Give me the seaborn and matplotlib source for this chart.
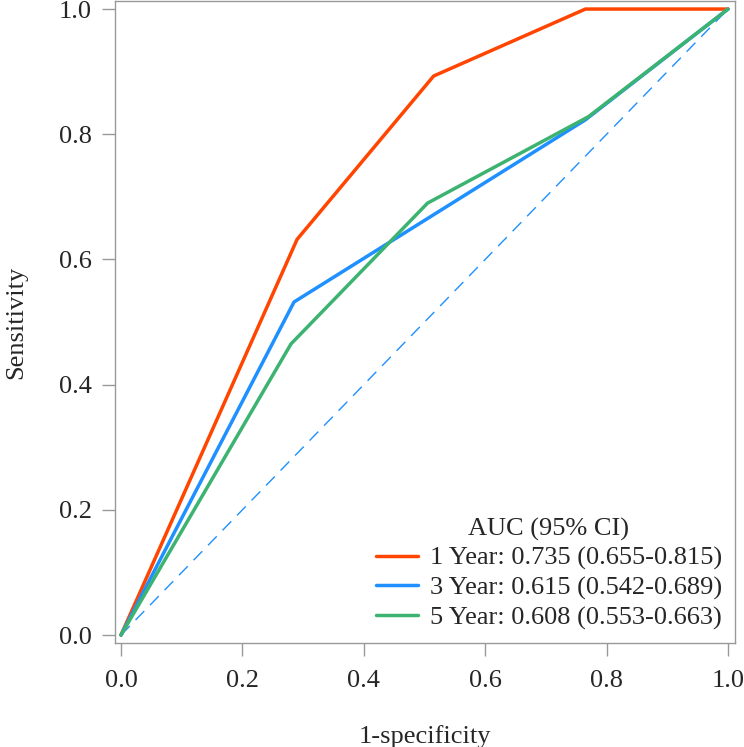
import pandas as pd
import seaborn as sns
import matplotlib

matplotlib.use("Agg")
import matplotlib.pyplot as plt

# ROC points (x = 1-specificity, y = sensitivity)
fpr_1y = [0.0, 0.29, 0.515, 0.765, 1.0]
tpr_1y = [0.0, 0.632, 0.893, 1.0, 1.0]
fpr_3y = [0.0, 0.285, 0.765, 1.0]
tpr_3y = [0.0, 0.532, 0.823, 1.0]
fpr_5y = [0.0, 0.28, 0.505, 0.77, 1.0]
tpr_5y = [0.0, 0.465, 0.69, 0.828, 1.0]

labels = [
    "1 Year: 0.735 (0.655-0.815)",
    "3 Year: 0.615 (0.542-0.689)",
    "5 Year: 0.608 (0.553-0.663)",
]
colors = ["#FF4500", "#1E90FF", "#3CB371"]
ticks = [0.0, 0.2, 0.4, 0.6, 0.8, 1.0]


def main():
    sns.set_theme(style="white")
    plt.rcParams["font.family"] = ["Liberation Serif", "DejaVu Serif"]

    frames = []
    for fpr, tpr, lab in zip([fpr_1y, fpr_3y, fpr_5y], [tpr_1y, tpr_3y, tpr_5y], labels):
        frames.append(pd.DataFrame({"fpr": fpr, "tpr": tpr, "curve": lab}))
    df = pd.concat(frames, ignore_index=True)

    fig = plt.figure(figsize=(7.44, 7.47), dpi=100)
    ax = fig.add_axes([0.1546, 0.1392, 0.8333, 0.8594])

    # reference diagonal
    ax.plot([0, 1], [0, 1], color="#1E90FF", lw=1.0, dashes=(9, 6))

    sns.lineplot(data=df, x="fpr", y="tpr", hue="curve", palette=colors,
                 sort=False, estimator=None, lw=2.5, ax=ax)

    ax.set_xlim(-0.0099, 1.0115)
    ax.set_ylim(-0.0128, 1.0128)
    ax.set_xticks(ticks)
    ax.set_yticks(ticks)
    ax.set_xticklabels([f"{t:.1f}" for t in ticks])
    ax.set_yticklabels([f"{t:.1f}" for t in ticks])
    ax.tick_params(axis="both", direction="out", length=9.5, width=1.0,
                   color="#999999", labelsize=19, bottom=True, left=True)
    ax.tick_params(axis="x", pad=10)
    ax.tick_params(axis="y", pad=7)
    for sp in ax.spines.values():
        sp.set_color("#999999")
        sp.set_linewidth(1.0)

    ax.set_xlabel("1-specificity", fontsize=19, labelpad=24)
    ax.set_ylabel("Sensitivity", fontsize=19, labelpad=23)

    leg = ax.legend(title="AUC (95% CI)", loc="lower right", frameon=False,
                    fontsize=19, title_fontsize=19, handlelength=1.6,
                    handletextpad=0.45, labelspacing=0.22,
                    borderpad=0.4, borderaxespad=0.1)
    for h in leg.get_lines():
        h.set_linewidth(2.5)

    fig.savefig("out.png", dpi=100)
    plt.close(fig)


if __name__ == "__main__":
    main()
